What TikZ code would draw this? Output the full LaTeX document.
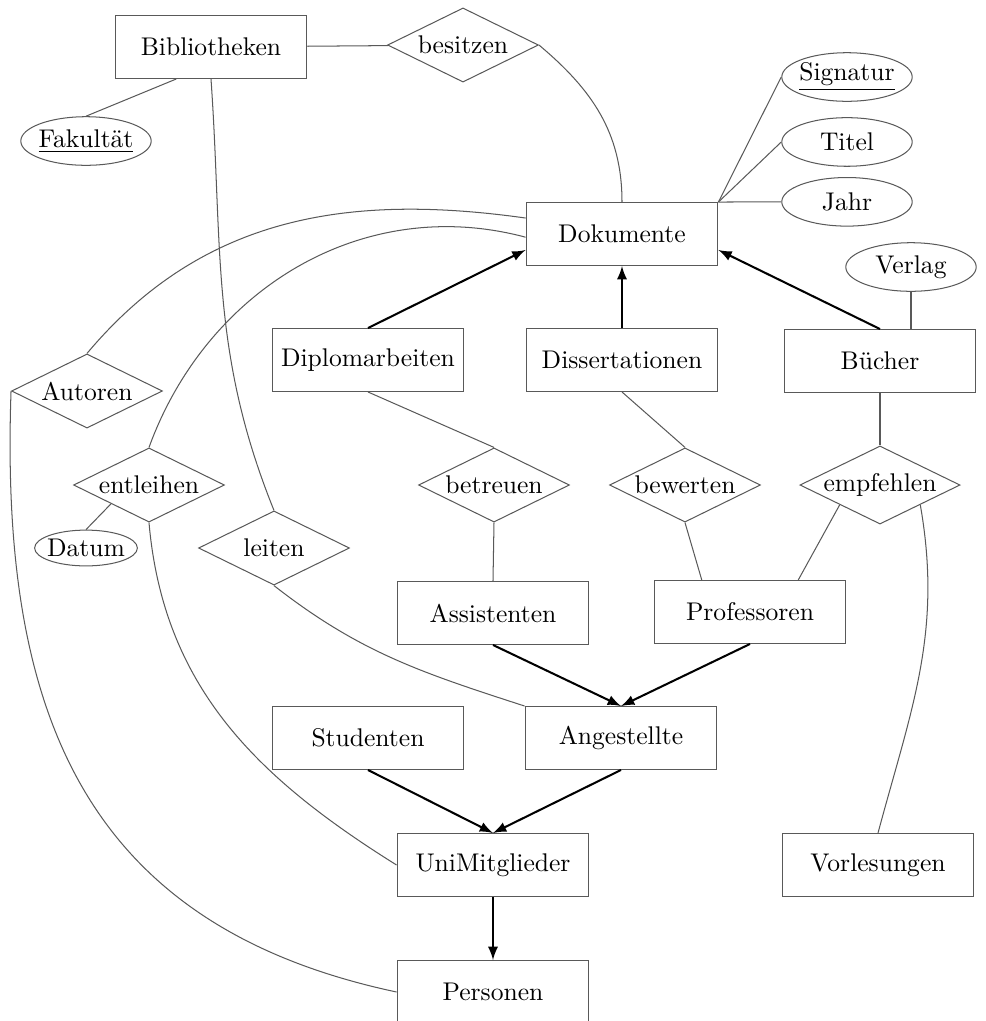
\documentclass[tikz,border=0pt]{standalone}
\usepackage{tikz}
\usetikzlibrary{positioning,shapes.geometric,calc}

\begin{document}
\begin{tikzpicture}[x=0.391pt,y=-0.391pt,
	ent/.style={draw=black!65, rectangle, minimum width=75pt, minimum height=24.6pt},
	rel/.style={draw=black!65, diamond, aspect=2.05, inner sep=0pt, minimum width=59pt, minimum height=29pt},
	att/.style={draw=black!65, ellipse, inner xsep=-1pt, inner ysep=0pt, minimum width=51pt, minimum height=19pt},
	lnk/.style={black!65},
	isa/.style={thick, -latex}]
\useasboundingbox (0,0) rectangle (986,1021);

\node[ent](bib) at (211,47) {Bibliotheken};
\node[rel](bes) at (463,45) {besitzen};
\node[att](fak) at (86,141) {\underline{Fakultät}};
\node[ent](dok) at (622,234) {Dokumente};
\node[att](sig) at (847,77) {\underline{Signatur}};
\node[att, below =6pt of sig](tit) {Titel};
\node[att, below =4pt of tit](jahr) {Jahr};
\node[att](verl) at (911,267) {Verlag};

\node[ent](dipl) at (368,360) {Diplomarbeiten};
\node[ent](diss) at (622,360) {Dissertationen};
\node[ent](buch) at (880,361) {Bücher};
\node[rel](aut) at (87,391) {Autoren};
\node[rel](entl) at (149,485) {entleihen};
\node[att, minimum width=0pt, minimum height=14pt](dat) at (86,548) {Datum};
\node[rel](leit) at (274,548) {leiten};
\node[rel](betr) at (494,485) {betreuen};
\node[rel](bew) at (685,485) {bewerten};
\node[rel](empf) at (880,485) {empfehlen};

\node[ent](ass) at (493,613) {Assistenten};
\node[ent](prof) at (750,612) {Professoren};
\node[ent](stud) at (368,738) {Studenten};
\node[ent](ang) at (621,738) {Angestellte};
\node[ent](uni) at (493,865) {UniMitglieder};
\node[ent](vorl) at (878,865) {Vorlesungen};
\node[ent](pers) at (493,992) {Personen};

% relationships and attributes
\draw[lnk] (bib) -- (bes);
\draw[lnk] ($(bib.south west)!0.32!(bib.south east)$) -- (fak.north);
\draw[lnk] (bes.east) to[out=-40,in=90] (dok.north);
\draw[lnk] (bib.south) to[out=-86,in=112] (leit.north);
\foreach \a in {sig,tit,jahr}
	\draw[lnk] (dok.north east) -- (\a.west);
\draw[lnk] (verl.south) -- (verl.south |- buch.north);
\draw[lnk] ($(dok.north west)!0.25!(dok.south west)$) to[out=172,in=50] (aut.north);
\draw[lnk] ($(dok.north west)!0.55!(dok.south west)$) to[out=165,in=70] (entl.north);
\draw[lnk] (aut.west) to[out=-92,in=168,looseness=1.15] (pers.west);
\draw[lnk] (entl.south) to[out=-85,in=148] (uni.west);
\draw[lnk] (entl.south west) -- (dat.north);
\draw[lnk] (leit.south) to[out=-38,in=162] (ang.north west);
\draw[lnk] (dipl.south) -- (betr.north);
\draw[lnk] (diss.south) -- (bew.north);
\draw[lnk] (buch.south) -- (empf.north);
\draw[lnk] (betr.south) -- (ass.north);
\draw[lnk] (bew.south) -- ($(prof.north west)!0.25!(prof.north east)$);
\draw[lnk] (empf.south west) -- ($(prof.north west)!0.75!(prof.north east)$);
\draw[lnk] (empf.south east) to[out=-80,in=75] (vorl.north);

% is-a
\draw[isa] (dipl.north) -- ($(dok.north west)!0.75!(dok.south west)$);
\draw[isa] (diss) -- (dok);
\draw[isa] (buch.north) -- ($(dok.north east)!0.75!(dok.south east)$);
\foreach \a/\b in {ass/ang,prof/ang,stud/uni,ang/uni}
	\draw[isa] (\a.south) -- (\b.north);
\draw[isa] (uni) -- (pers);
\end{tikzpicture}
\end{document}
